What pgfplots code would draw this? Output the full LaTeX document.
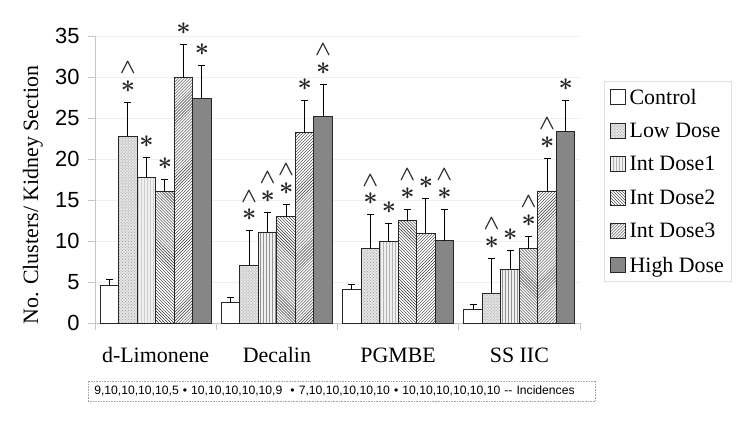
\documentclass[border=0pt]{standalone}
\usepackage{pgfplots}
\pgfplotsset{compat=1.18}
\usepackage{pgfplotstable}
\usetikzlibrary{patterns}
\usepackage{fontspec}
\setmainfont{Liberation Serif}
\setsansfont{Liberation Sans}

\newcommand\sN{}
\newcommand\sA{{\fontsize{28}{28}\selectfont\boldmath$\ast$}}
\newcommand\sB{\shortstack{{\fontsize{21}{21}\selectfont\boldmath$\wedge$}\\[4bp]{\fontsize{28}{28}\selectfont\boldmath$\ast$}}}

\pgfplotstableread{
x y e lab
0 4.6 0.7 \sN
1 2.45 0.65 \sN
2 4.05 0.7 \sN
3 1.6 0.7 \sN
}\tControl
\pgfplotstableread{
x y e lab
0 22.75 4.15 \sB
1 7.0 4.25 \sB
2 9.05 4.15 \sB
3 3.65 4.25 \sB
}\tLow
\pgfplotstableread{
x y e lab
0 17.8 2.4 \sA
1 11.1 2.4 \sB
2 9.9 2.3 \sA
3 6.5 2.4 \sA
}\tIntA
\pgfplotstableread{
x y e lab
0 16.05 1.5 \sA
1 12.95 1.55 \sB
2 12.5 1.4 \sB
3 9.05 1.55 \sB
}\tIntB
\pgfplotstableread{
x y e lab
0 29.9 4.1 \sA
1 23.2 4.0 \sA
2 10.95 4.25 \sA
3 16.1 4.0 \sB
}\tIntC
\pgfplotstableread{
x y e lab
0 27.4 4.0 \sA
1 25.2 3.9 \sB
2 10.05 3.85 \sB
3 23.3 3.9 \sA
}\tHigh

\pgfplotsset{
  sqleg/.style={legend image code/.code={\draw[##1,line width=0.8bp] (0bp,-7.5bp) rectangle (15bp,7.5bp);}},
}

\begin{document}
\begin{tikzpicture}[x=1bp,y=1bp]
\path[use as bounding box] (0,0) rectangle (747,424);
\begin{axis}[
  at={(95bp,101bp)}, anchor=south west,
  scale only axis, width=485bp, height=287bp,
  xmin=-0.5, xmax=3.5, ymin=0, ymax=35,
  ybar=0pt, bar width=18.5bp,
  axis x line*=bottom, axis y line*=left,
  axis line style={gray!45, line width=0.6bp},
  ytick={0,5,...,35},
  ymajorgrids, grid style={gray!12, line width=0.6bp},
  tick align=outside, major tick length=7bp,
  tick style={gray!45, line width=0.6bp},
  xtick={-0.5,0.5,1.5,2.5,3.5}, xticklabels={},
  extra x ticks={0,1,2,3},
  extra x tick labels={d-Limonene,Decalin,PGMBE,SS IIC},
  extra x tick style={major tick length=0pt},
  xticklabel style={font=\fontsize{22}{24}\selectfont, yshift=-21bp},
  yticklabel style={font=\sffamily\fontsize{22}{24}\selectfont, xshift=-5bp},
  /pgf/number format/assume math mode=true,
  every axis plot/.append style={draw=black!85, line width=0.9bp},
  error bars/y dir=plus, error bars/y explicit,
  error bars/error bar style={black, line width=0.9bp},
  error bars/error mark options={black, line width=0.9bp, mark size=3.5bp, rotate=90},
  nodes near coords, point meta=explicit symbolic,
  visualization depends on={\thisrow{e} \as \errval},
  nodes near coords style={anchor=south, shift={(axis direction cs:0,\errval)}, yshift=6bp, text=black!85},
  legend style={at={(axis description cs:1.0495,0.8432)}, anchor=north west,
    draw=gray!25, line width=0.6bp, font=\fontsize{22}{24}\selectfont,
    row sep=14.5bp, inner xsep=6bp, inner ysep=6bp,
    nodes={inner sep=1.5bp}},
  legend cell align=left,
  clip=false,
]
\addplot[fill=white, sqleg] table[x=x,y=y,y error=e,meta=lab]{\tControl};
\addplot[fill=gray!22, postaction={pattern=crosshatch dots, pattern color=gray!75}, sqleg] table[x=x,y=y,y error=e,meta=lab]{\tLow};
\addplot[fill=gray!12, postaction={pattern=vertical lines, pattern color=gray!85}, sqleg] table[x=x,y=y,y error=e,meta=lab]{\tIntA};
\addplot[fill=white, postaction={pattern=north west lines, pattern color=black!85}, sqleg] table[x=x,y=y,y error=e,meta=lab]{\tIntB};
\addplot[fill=white, postaction={pattern=north east lines, pattern color=black!80}, sqleg] table[x=x,y=y,y error=e,meta=lab]{\tIntC};
\addplot[fill=gray!95, sqleg] table[x=x,y=y,y error=e,meta=lab]{\tHigh};
\legend{\hspace{2bp}Control,\hspace{2bp}Low Dose,\hspace{2bp}Int Dose1,\hspace{2bp}Int Dose2,\hspace{2bp}Int Dose3,\hspace{2bp}High Dose}
\end{axis}
\node[rotate=90, font=\fontsize{22}{24}\selectfont] at (33bp,229bp) {No. Clusters/ Kidney Section};
\node[anchor=west, draw=gray!70, densely dotted, line width=0.6bp,
      font=\sffamily\fontsize{12.2}{14}\selectfont,
      text width=495bp, align=left, inner xsep=6bp, inner ysep=5bp]
  at (88bp,33bp) {9,10,10,10,10,5 \textbullet{} 10,10,10,10,10,9 \ \textbullet{} 7,10,10,10,10,10 \textbullet{} 10,10,10,10,10,10 -{}- Incidences};
\end{tikzpicture}
\end{document}
